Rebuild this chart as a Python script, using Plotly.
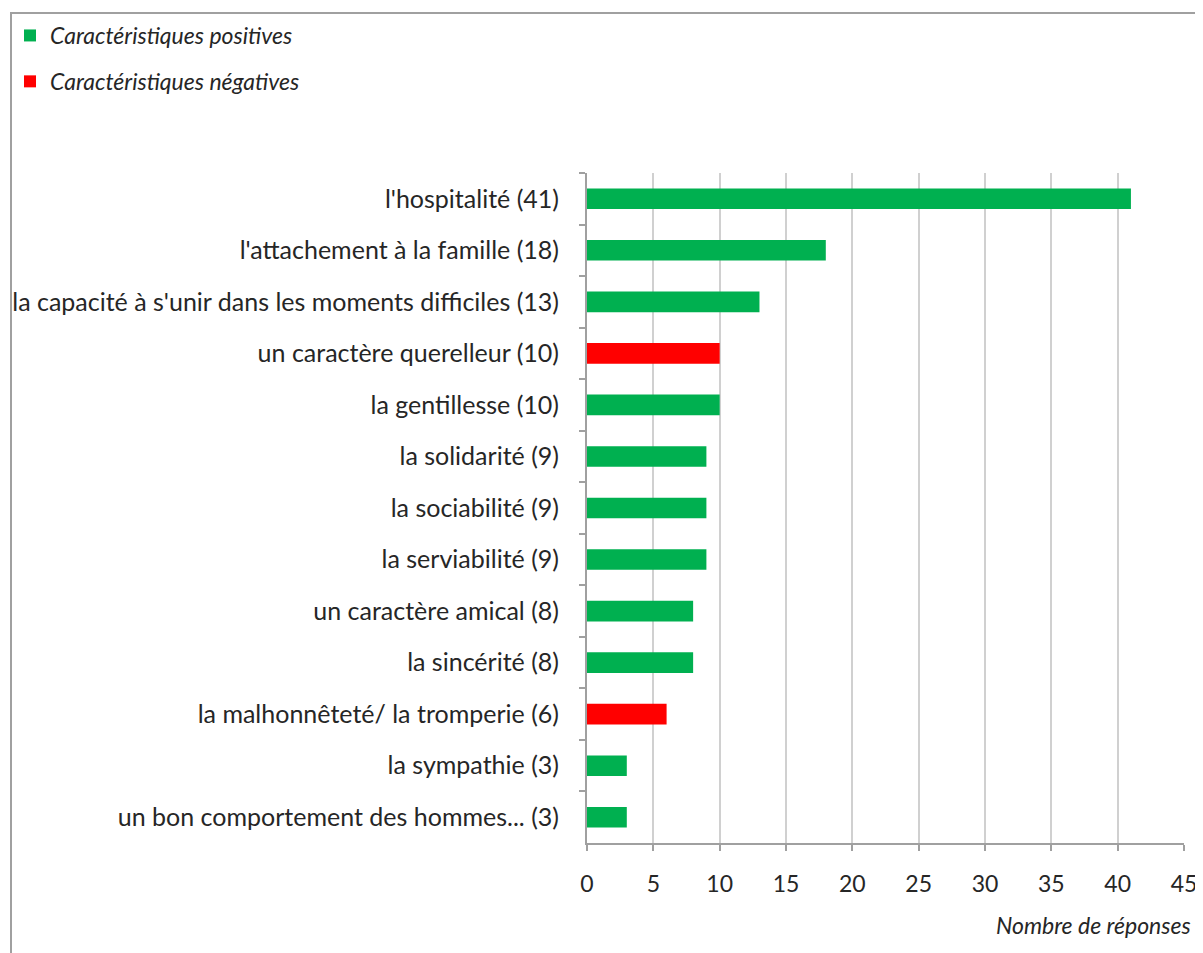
import plotly.graph_objects as go

# categories top to bottom, with their values and sign (positive / negative trait)
labels = [
    "l'hospitalité (41)",
    "l'attachement à la famille (18)",
    "la capacité à s'unir dans les moments difficiles (13)",
    "un caractère querelleur (10)",
    "la gentillesse (10)",
    "la solidarité (9)",
    "la sociabilité (9)",
    "la serviabilité (9)",
    "un caractère amical (8)",
    "la sincérité (8)",
    "la malhonnêteté/ la tromperie (6)",
    "la sympathie (3)",
    "un bon comportement des hommes... (3)",
]
values = [41, 18, 13, 10, 10, 9, 9, 9, 8, 8, 6, 3, 3]
kind = ["pos", "pos", "pos", "neg", "pos", "pos", "pos", "pos", "pos", "pos", "neg", "pos", "pos"]

x_ticks = [0, 5, 10, 15, 20, 25, 30, 35, 40, 45]

series = [
    ("pos", "Caractéristiques positives", "#00B050"),
    ("neg", "Caractéristiques négatives", "#FF0000"),
]

# the page body has an 8px margin, so work in page pixels and shift
OFF = 8
W, H = 1203 - OFF, 953 - OFF
L, R, T, B = 587 - OFF, 19, 173 - OFF, 110
pw, ph = W - L - R, H - T - B

FONT = "Lato, 'Open Sans', sans-serif"
TXT = "#262626"

fig = go.Figure()
for key, name, color in series:
    ys = [lab for lab, k in zip(labels, kind) if k == key]
    xs = [v for v, k in zip(values, kind) if k == key]
    fig.add_trace(go.Bar(
        x=xs, y=ys, orientation="h", name=name,
        marker=dict(color=color, line=dict(width=0)),
        legendgroup=key,
    ))


# page pixel -> paper coordinate
def px_x(p):
    return (p - OFF - L) / pw


def px_y(p):
    return (H - B - (p - OFF)) / ph


# chart border (left + top visible, rest runs off the page)
fig.add_shape(type="rect", xref="paper", yref="paper",
              x0=px_x(11), x1=px_x(1240), y0=px_y(990), y1=px_y(13),
              line=dict(color="#A0A0A0", width=2), fillcolor="rgba(0,0,0,0)", layer="below")

fig.add_annotation(text="<i>Nombre de réponses</i>", xref="paper", yref="paper",
                   x=px_x(1193), y=px_y(925), xanchor="right", yanchor="middle",
                   showarrow=False, font=dict(family=FONT, size=23, color=TXT))

fig.update_layout(
    width=W, height=H,
    margin=dict(l=L, r=R, t=T, b=B, autoexpand=False),
    paper_bgcolor="white", plot_bgcolor="white",
    barmode="overlay", bargap=0.6,
    font=dict(family=FONT, size=20, color=TXT),
    showlegend=True,
    legend=dict(
        x=px_x(10), y=px_y(14), xanchor="left", yanchor="top",
        font=dict(family=FONT, size=23, color=TXT, style="italic"),
        tracegroupgap=13, bgcolor="rgba(0,0,0,0)",
    ),
    xaxis=dict(
        range=[0, 45], tickvals=x_ticks, showgrid=True,
        gridcolor="#D0D0D0", gridwidth=2,
        showline=True, linecolor="#A0A0A0", linewidth=2,
        ticks="outside", ticklen=6, tickcolor="#A0A0A0", tickwidth=2,
        ticklabelstandoff=13, zeroline=False,
        tickfont=dict(family=FONT, size=23, color=TXT),
    ),
    yaxis=dict(
        type="category", categoryorder="array", categoryarray=labels,
        autorange="reversed", showgrid=False,
        showline=True, linecolor="#A0A0A0", linewidth=2,
        ticks="outside", ticklen=6, tickcolor="#A0A0A0", tickwidth=2,
        tickson="boundaries", ticklabelstandoff=21,
        tickfont=dict(family=FONT, size=25, color=TXT),
    ),
)

fig.write_html("out.html")
